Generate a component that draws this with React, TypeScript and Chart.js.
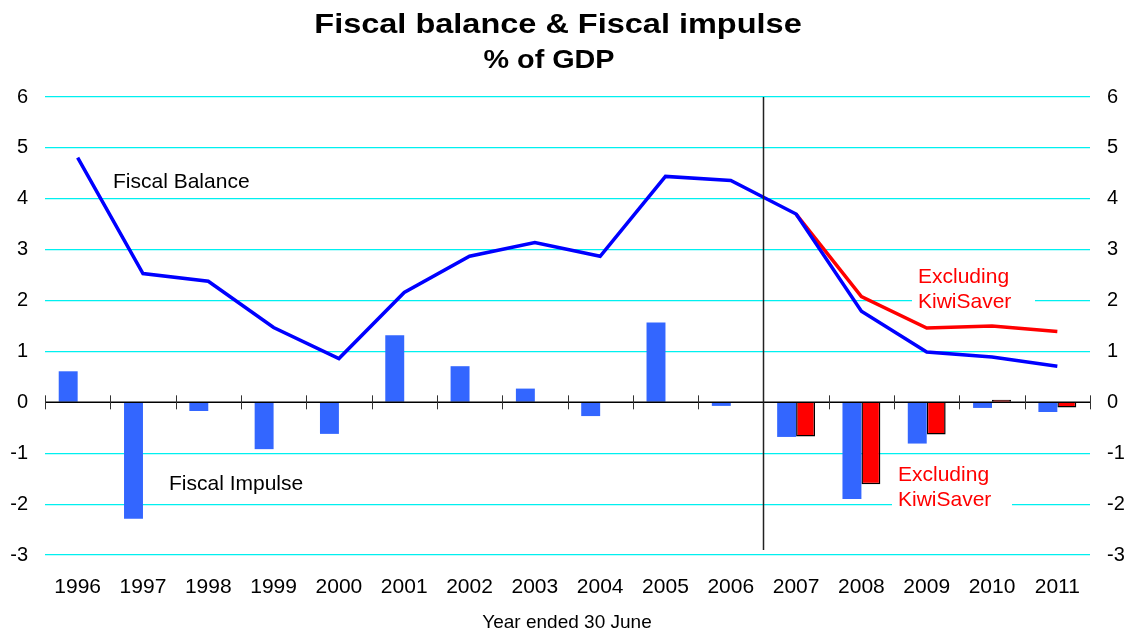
import React, { useEffect, useRef } from "react";
import { Chart, registerables } from "chart.js";

Chart.register(...registerables);

const years = ["1996", "1997", "1998", "1999", "2000", "2001", "2002", "2003", "2004", "2005", "2006", "2007", "2008", "2009", "2010", "2011"];
const fiscalBalance = [4.81, 2.53, 2.38, 1.47, 0.86, 2.16, 2.87, 3.14, 2.87, 4.44, 4.36, 3.70, 1.79, 0.99, 0.89, 0.71];
const balanceExclKiwiSaver = [null, null, null, null, null, null, null, null, null, null, null, 3.70, 2.08, 1.46, 1.50, 1.39];
const fiscalImpulse = [0.61, -2.29, -0.17, -0.92, -0.62, 1.32, 0.71, 0.27, -0.27, 1.57, -0.07, -0.68, -1.90, -0.81, -0.11, -0.19];
const impulseExclKiwiSaver = [null, null, null, null, null, null, null, null, null, null, null, -0.67, -1.61, -0.63, 0.05, -0.10];
const yMin = -3;
const yMax = 6;
const titleLines = ["Fiscal balance & Fiscal impulse", "% of GDP"];
const xAxisTitle = "Year ended 30 June";
const FONT = "'Liberation Sans', Arial, sans-serif";

const overlayPlugin = {
  id: "overlay",
  afterDatasetsDraw(chart: any) {
    const ctx = chart.ctx;
    const x = chart.scales.x;
    const y = chart.scales.y;
    const area = chart.chartArea;
    const y0 = y.getPixelForValue(0);
    const step = (area.right - area.left) / years.length;
    ctx.save();
    // zero line
    ctx.strokeStyle = "#000";
    ctx.lineWidth = 1.5;
    ctx.beginPath();
    ctx.moveTo(area.left, y0);
    ctx.lineTo(area.right, y0);
    ctx.stroke();
    // ticks at category boundaries
    ctx.lineWidth = 1;
    ctx.strokeStyle = "#333";
    for (let i = 0; i <= years.length; i++) {
      const px = Math.round(x.getPixelForValue(0) - step / 2 + i * step) + 0.5;
      ctx.beginPath();
      ctx.moveTo(px, y0 - 7);
      ctx.lineTo(px, y0 + 7);
      ctx.stroke();
    }
    // separator between 2006 and 2007
    const sx = Math.round((x.getPixelForValue(10) + x.getPixelForValue(11)) / 2) + 0.5;
    ctx.strokeStyle = "#222";
    ctx.lineWidth = 1.5;
    ctx.beginPath();
    ctx.moveTo(sx, area.top);
    ctx.lineTo(sx, area.bottom - 5);
    ctx.stroke();
    ctx.restore();
  },
  afterDraw(chart: any) {
    const ctx = chart.ctx;
    ctx.save();
    ctx.fillStyle = "#000";
    ctx.textBaseline = "alphabetic";
    ctx.textAlign = "center";
    // titles (horizontally stretched like the original)
    ctx.font = `bold 28px ${FONT}`;
    ctx.save();
    ctx.translate(558, 33);
    ctx.scale(1.16, 1);
    ctx.fillText(titleLines[0], 0, 0);
    ctx.restore();
    ctx.font = `bold 25px ${FONT}`;
    ctx.save();
    ctx.translate(549, 68);
    ctx.scale(1.15, 1);
    ctx.fillText(titleLines[1], 0, 0);
    ctx.restore();
    // axis title
    ctx.font = `19px ${FONT}`;
    ctx.fillText(xAxisTitle, 567, 628);
    // annotations
    ctx.textAlign = "left";
    ctx.font = `21px ${FONT}`;
    ctx.fillText("Fiscal Balance", 113, 188);
    ctx.fillText("Fiscal Impulse", 169, 490);
    const red = (lx: number, by: number, bgw: number) => {
      ctx.fillStyle = "#fff";
      ctx.fillRect(lx - 6, by - 20, bgw, 50);
      ctx.fillStyle = "#FF0000";
      ctx.fillText("Excluding", lx, by);
      ctx.fillText("KiwiSaver", lx, by + 25);
    };
    red(918, 283, 123);
    red(898, 481, 120);
    ctx.restore();
  },
};

export default function App() {
  const ref = useRef<HTMLCanvasElement>(null);
  useEffect(() => {
    if (!ref.current) return;
    const chart = new Chart(ref.current, {
      type: "bar",
      data: {
        labels: years,
        datasets: [
          {
            type: "line",
            label: "Fiscal Balance",
            data: fiscalBalance,
            borderColor: "#0000FF",
            borderWidth: 3.5,
            pointRadius: 0,
            tension: 0,
            order: 0,
            yAxisID: "y",
          } as any,
          {
            type: "line",
            label: "Fiscal Balance excl. KiwiSaver",
            data: balanceExclKiwiSaver,
            borderColor: "#FF0000",
            borderWidth: 3.5,
            pointRadius: 0,
            tension: 0,
            order: 1,
            yAxisID: "y",
          } as any,
          {
            type: "bar",
            label: "Fiscal Impulse",
            data: fiscalImpulse,
            backgroundColor: "#3366FF",
            borderWidth: 0,
            order: 2,
            yAxisID: "y",
          },
          {
            type: "bar",
            label: "Fiscal Impulse excl. KiwiSaver",
            data: impulseExclKiwiSaver,
            backgroundColor: "#FF0000",
            borderColor: "#000000",
            borderWidth: 1.5,
            order: 3,
            yAxisID: "y",
          } as any,
        ],
      },
      options: {
        animation: false,
        responsive: false,
        devicePixelRatio: 1,
        datasets: { bar: { categoryPercentage: 0.58, barPercentage: 1.0 } },
        layout: { padding: { top: 97, left: 0, right: 0, bottom: 0 } },
        plugins: { legend: { display: false }, tooltip: { enabled: false }, title: { display: false } },
        scales: {
          x: {
            offset: true,
            grid: { display: false, drawTicks: false },
            border: { display: false },
            ticks: { color: "#000", font: { family: FONT, size: 21 }, padding: 20, maxRotation: 0, autoSkip: false },
            afterFit(scale: any) { scale.height = 76; },
          },
          y: {
            position: "left",
            min: yMin,
            max: yMax,
            border: { display: false },
            grid: {
              drawTicks: false,
              lineWidth: 1.2,
              color: (c: any) => (c.tick && c.tick.value === 0 ? "rgba(0,0,0,0)" : "#00F0F0"),
            },
            ticks: { stepSize: 1, color: "#000", font: { family: FONT, size: 20 }, padding: 17 },
            afterFit(scale: any) { scale.width = 45; },
          },
          y1: {
            position: "right",
            min: yMin,
            max: yMax,
            border: { display: false },
            grid: { display: false, drawTicks: false },
            ticks: { stepSize: 1, color: "#000", font: { family: FONT, size: 20 }, padding: 17 },
            afterFit(scale: any) { scale.width = 45; },
          },
        },
      },
      plugins: [overlayPlugin],
    } as any);
    return () => chart.destroy();
  }, []);
  return (
    <div style={{ position: "fixed", left: 0, top: 0, width: 1135, height: 631, background: "#fff" }}>
      <canvas ref={ref} width={1135} height={631} />
    </div>
  );
}
